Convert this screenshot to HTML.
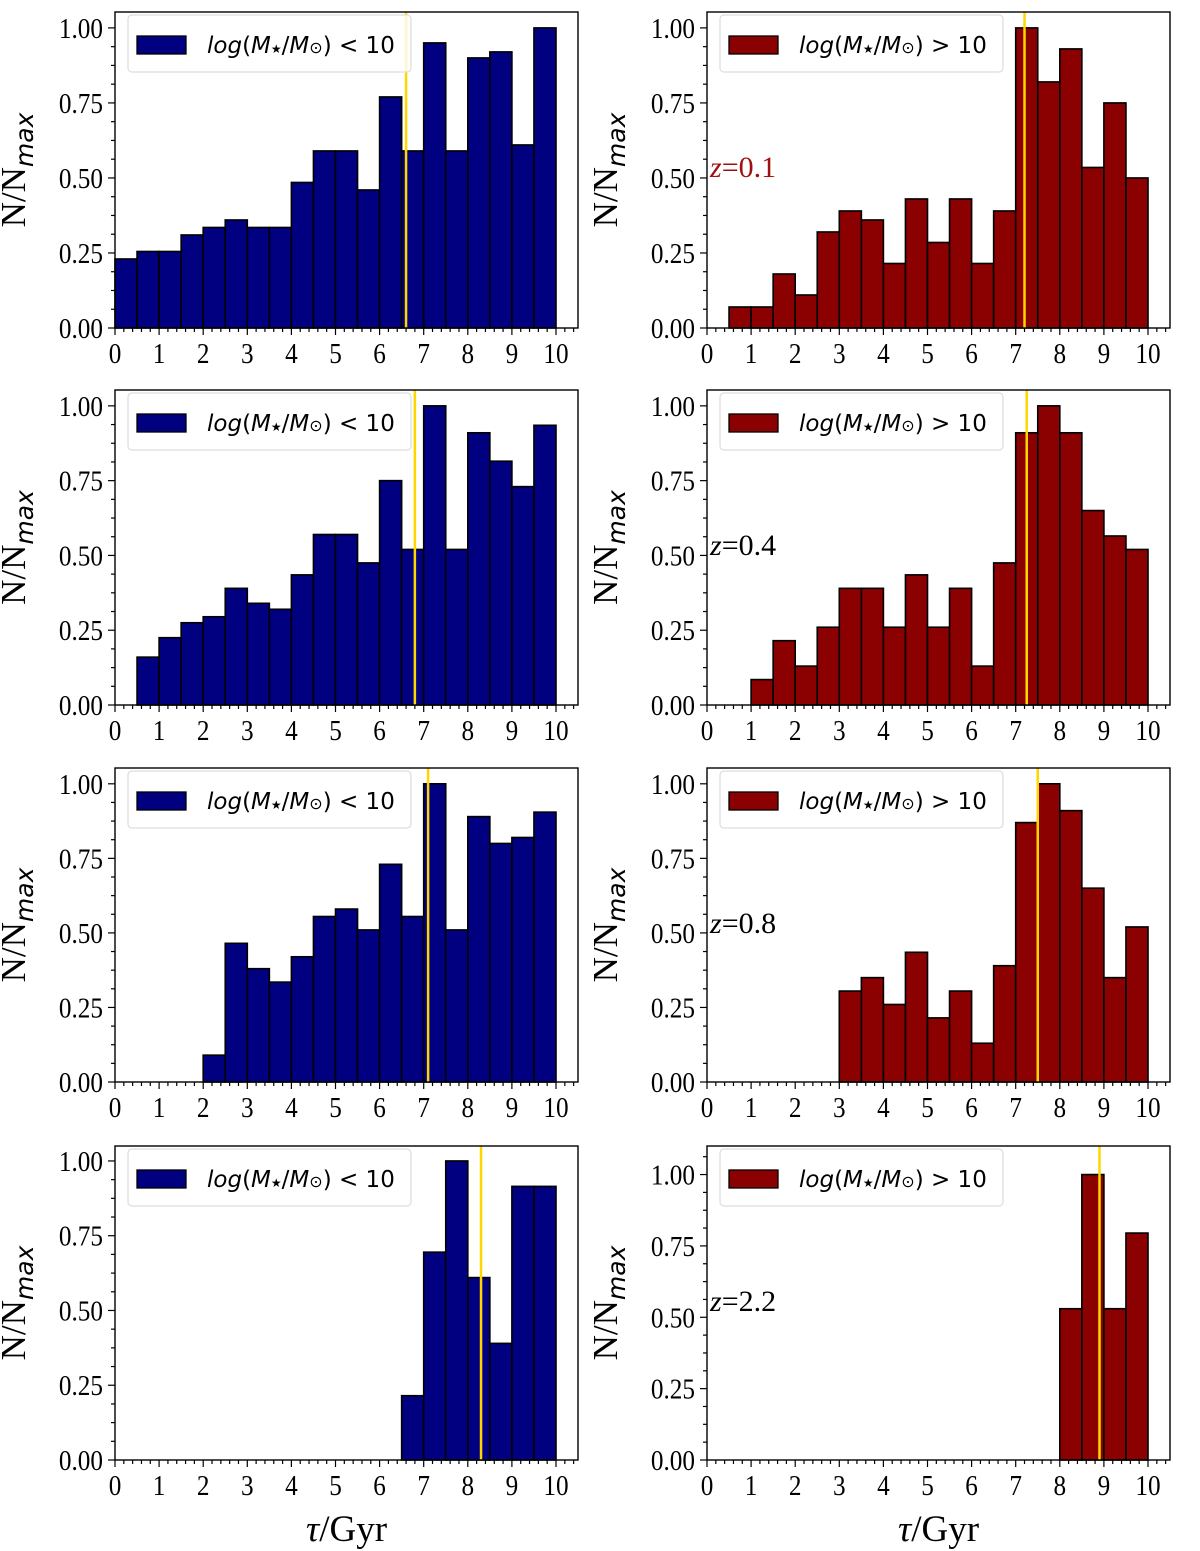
<!DOCTYPE html>
<html><head><meta charset="utf-8">
<style>
body{margin:0;background:#fff;}
svg{display:block;font-family:"Liberation Serif",serif;}
</style></head>
<body>
<svg id="fig" width="1200" height="1551" viewBox="0 0 1200 1551" xmlns="http://www.w3.org/2000/svg"></svg>
<script>
const binEdgesStart = 0, binWidth = 0.5;
const lowMassZ01 = [0.23,0.255,0.255,0.31,0.335,0.36,0.335,0.335,0.485,0.59,0.59,0.46,0.77,0.59,0.95,0.59,0.90,0.92,0.61,1.00];
const highMassZ01 = [0,0.07,0.07,0.18,0.11,0.32,0.39,0.36,0.215,0.43,0.285,0.43,0.215,0.39,1.00,0.82,0.93,0.535,0.75,0.50];
const lowMassZ04 = [0,0.16,0.225,0.275,0.295,0.39,0.34,0.32,0.435,0.57,0.57,0.475,0.75,0.52,1.00,0.52,0.91,0.815,0.73,0.935];
const highMassZ04 = [0,0,0.085,0.215,0.13,0.26,0.39,0.39,0.26,0.435,0.26,0.39,0.13,0.475,0.91,1.00,0.91,0.65,0.565,0.52];
const lowMassZ08 = [0,0,0,0,0.09,0.465,0.38,0.335,0.42,0.555,0.58,0.51,0.73,0.555,1.00,0.51,0.89,0.80,0.82,0.905];
const highMassZ08 = [0,0,0,0,0,0,0.305,0.35,0.26,0.435,0.215,0.305,0.13,0.39,0.87,1.00,0.91,0.65,0.35,0.52];
const lowMassZ22 = [0,0,0,0,0,0,0,0,0,0,0,0,0,0.215,0.695,1.00,0.61,0.39,0.915,0.915];
const highMassZ22 = [0,0,0,0,0,0,0,0,0,0,0,0,0,0,0,0,0.53,1.00,0.53,0.795];
const medianAges = [6.6,7.2,6.8,7.25,7.1,7.5,8.3,8.9];
const redshiftLabels = ["z=0.1","z=0.4","z=0.8","z=2.2"];
const xTickLabels = ["0","1","2","3","4","5","6","7","8","9","10"];
const yTickLabels = ["0.00","0.25","0.50","0.75","1.00"];

const series = [lowMassZ01,highMassZ01,lowMassZ04,highMassZ04,lowMassZ08,highMassZ08,lowMassZ22,highMassZ22];
const NS = "http://www.w3.org/2000/svg";
const svg = document.getElementById('fig');
function mk(tag, attrs, parent){const e=document.createElementNS(NS,tag);for(const k in attrs)e.setAttribute(k,attrs[k]);(parent||svg).appendChild(e);return e;}

const cols = [{x0:115,x10:556,right:578,color:"#000080"},
              {x0:707,x10:1148,right:1170,color:"#8b0000"}];
const rows = [{top:12,y0:328,ymax:1.053},{top:390,y0:705,ymax:1.053},{top:768,y0:1082,ymax:1.053},{top:1146,y0:1460,ymax:1.05}];
const rowsRight = [{top:12,ymax:1.053},{top:390,ymax:1.053},{top:768,ymax:1.053},{top:1146,ymax:1.10}];

for(let r=0;r<4;r++){
 for(let c=0;c<2;c++){
  const col=cols[c];
  const top = c===0?rows[r].top:rowsRight[r].top;
  const ymax = c===0?rows[r].ymax:rowsRight[r].ymax;
  const y0=rows[r].y0;
  const xs=v=>col.x0+(col.x10-col.x0)*v/10;
  const ys=v=>y0-(y0-top)*v/ymax;
  const g=mk('g',{});
  
  
  const data=series[r*2+c];
  data.forEach((v,i)=>{
   if(v<=0)return;
   const xa=xs(binEdgesStart+i*binWidth), xb=xs(binEdgesStart+(i+1)*binWidth);
   const b=mk('rect',{x:xa,y:ys(v),width:xb-xa,height:y0-ys(v),fill:col.color,stroke:"#000","stroke-width":1.6},g);
   
   
  });
  const m=mk('line',{x1:xs(medianAges[r*2+c]),x2:xs(medianAges[r*2+c]),y1:top,y2:y0,stroke:"#ffd700","stroke-width":2.5},g);
  
  
  const fr=mk('rect',{x:col.x0,y:top,width:col.right-col.x0,height:y0-top,fill:"none",stroke:"#000","stroke-width":1.4},g);
  
  
  for(let t=0;t<=52;t++){
   const v=t*0.2; if(v>10.5)break;
   const major=(t%5===0);
   mk('line',{x1:xs(v),x2:xs(v),y1:y0,y2:y0+(major?7:4),stroke:"#000","stroke-width":1.2},g);
  }
  xTickLabels.forEach((lab,i)=>{
   const t=mk('text',{x:xs(+lab),y:y0+35,"font-size":28,"text-anchor":"middle",transform:`translate(${xs(+lab)},0) scale(0.9,1) translate(${-xs(+lab)},0)`},g);t.textContent=lab;
   
   
  });
  for(let t=0;t*0.0625<=ymax;t++){
   const v=t*0.0625;const major=(t%4===0);
   mk('line',{x1:col.x0,x2:col.x0-(major?7:4),y1:ys(v),y2:ys(v),stroke:"#000","stroke-width":1.2},g);
  }
  yTickLabels.forEach(lab=>{
   const ax=col.x0-12;
   const t=mk('text',{x:ax,y:ys(+lab)+10,"font-size":28,"text-anchor":"end",transform:`translate(${ax},0) scale(0.9,1) translate(${-ax},0)`},g);t.textContent=lab;
   
   
  });
  const yl=mk('text',{transform:`translate(${col.x0-90},${(top+y0)/2}) rotate(-90)`,"font-size":35,"text-anchor":"middle"},g);
  yl.innerHTML='N/N<tspan font-family="DejaVu Sans, sans-serif" font-style="italic" font-size="25" dy="8">max</tspan>';
  
  
  const lg=mk('g',{},g);
  
  
  mk('rect',{x:col.x0+13,y:top+3,width:283,height:57,rx:4,fill:"#fff","fill-opacity":0.8,stroke:"#ddd","stroke-width":1.2},lg);
  mk('rect',{x:col.x0+22,y:top+24,width:49,height:18,fill:col.color,stroke:"#000","stroke-width":1.3},lg);
  const lt=mk('text',{x:col.x0+92,y:top+41,"font-size":23,"font-family":"DejaVu Sans, sans-serif"},lg);
  lt.innerHTML='<tspan font-style="italic">log</tspan>(<tspan font-style="italic">M</tspan><tspan font-size="12">\u2605</tspan>/<tspan font-style="italic">M</tspan><tspan font-size="16">\u2299</tspan>) '+(c===0?'&lt;':'&gt;')+' 10';
  
  
  if(c===1){
   const z=mk('text',{x:710,y:top+165,"font-size":30,fill:r===0?"#a01010":"#000"},g);
   z.innerHTML='<tspan font-style="italic">z</tspan>='+redshiftLabels[r].slice(2);
   
   
  }
  if(r===3){
   const xl=mk('text',{x:(col.x0+col.right)/2,y:1541,"font-size":37,"text-anchor":"middle"},g);
   xl.innerHTML='<tspan font-style="italic">τ</tspan>/Gyr';
   
   
  }
 }
}
</script>
</body></html>
